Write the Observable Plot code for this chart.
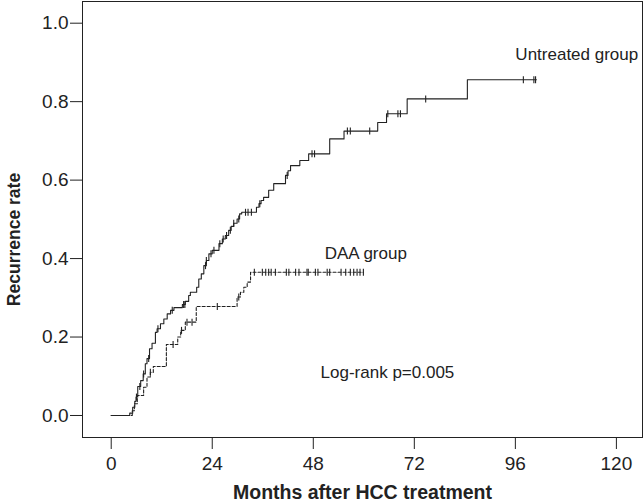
<!DOCTYPE html>
<html>
<head>
<meta charset="utf-8">
<script src="https://cdn.jsdelivr.net/npm/d3@7"></script>
<script src="https://cdn.jsdelivr.net/npm/@observablehq/plot@0.6"></script>
<style>
  html, body { margin: 0; padding: 0; background: #fff; }
  #chart { width: 644px; height: 503px; }
</style>
</head>
<body>
<div id="chart"></div>
<script>
// Untreated group: event months and cumulative recurrence after each step
const untreatedMonths = [0, 4.4, 5.1, 5.6, 5.9, 6.3, 7.0, 7.6, 8.1, 8.5, 9.1, 9.7, 10.5, 10.9, 11.7, 12.5, 13.3, 14.1, 14.9, 16.9, 17.6, 18.4, 18.8, 20.3, 20.8, 21.4, 22.0, 22.6, 23.2, 24.0, 25.6, 26.4, 27.1, 27.9, 28.5, 29.1, 29.9, 30.5, 31.0, 34.5, 35.1, 35.6, 36.2, 37.4, 38.6, 41.4, 42.0, 42.6, 44.8, 46.9, 51.9, 55.3, 63.3, 65.4, 70.3, 84.6, 101.0];
const untreatedRates  = [0, 0.006, 0.021, 0.036, 0.047, 0.074, 0.089, 0.106, 0.132, 0.145, 0.170, 0.184, 0.212, 0.221, 0.234, 0.246, 0.259, 0.268, 0.275, 0.283, 0.291, 0.306, 0.314, 0.327, 0.348, 0.361, 0.382, 0.395, 0.412, 0.421, 0.438, 0.450, 0.459, 0.472, 0.482, 0.490, 0.501, 0.514, 0.518, 0.531, 0.540, 0.548, 0.556, 0.574, 0.591, 0.612, 0.624, 0.637, 0.650, 0.667, 0.705, 0.725, 0.747, 0.769, 0.807, 0.856, 0.856];
const untreatedCensorMonths = [6.0, 6.8, 7.7, 8.9, 11.1, 14.5, 17.2, 17.5, 22.4, 22.6, 23.7, 24.4, 25.8, 26.6, 27.4, 28.3, 29.1, 30.3, 31.9, 32.5, 33.3, 35.3, 41.8, 47.7, 48.3, 56.1, 56.8, 61.4, 65.7, 68.1, 68.7, 74.7, 97.9, 100.4, 100.8];

// DAA group
const daaMonths = [0, 5.0, 5.5, 6.2, 7.7, 8.5, 9.3, 10.0, 13.1, 15.8, 16.5, 17.6, 20.2, 29.9, 30.7, 31.5, 32.3, 33.1, 59.9];
const daaRates  = [0, 0.012, 0.030, 0.051, 0.072, 0.098, 0.110, 0.125, 0.181, 0.200, 0.217, 0.238, 0.278, 0.302, 0.314, 0.327, 0.340, 0.365, 0.365];
const daaCensorMonths = [9.3, 14.7, 16.7, 18.0, 19.2, 25.2, 30.3, 34.0, 35.9, 36.7, 37.4, 38.0, 39.0, 41.6, 42.2, 43.8, 44.6, 46.5, 46.8, 48.5, 49.1, 51.3, 51.9, 54.6, 55.7, 56.8, 57.6, 58.4, 59.1, 59.9];

const xTicks = [0, 24, 48, 72, 96, 120];
const yTicks = [0, 0.2, 0.4, 0.6, 0.8, 1.0];

const groupLabels = ["Untreated group", "DAA group"];
const labelMonths = [96.0, 50.7];
const labelRates = [0.905, 0.399];
const pValueText = "Log-rank p=0.005";
const xTitle = "Months after HCC treatment";
const yTitle = "Recurrence rate";

// build tables
const toSteps = (ms, rs) => ms.map((t, i) => ({t, r: rs[i]}));
const stepValue = (ms, rs, t) => { let v = rs[0]; for (let i = 0; i < ms.length; i++) if (ms[i] <= t) v = rs[i]; return v; };
const untreated = toSteps(untreatedMonths, untreatedRates);
const daa = toSteps(daaMonths, daaRates);
const censors = [
  ...untreatedCensorMonths.map(t => ({t, r: stepValue(untreatedMonths, untreatedRates, t)})),
  ...daaCensorMonths.map(t => ({t, r: stepValue(daaMonths, daaRates, t)}))
];
const labels = groupLabels.map((s, i) => ({s, t: labelMonths[i], r: labelRates[i]}));

const tickSymbol = {
  draw(ctx, size) {
    const h = Math.sqrt(size / Math.PI);
    ctx.moveTo(0, -h);
    ctx.lineTo(0, h);
  }
};

const ink = "#222";
const chart = Plot.plot({
  width: 644,
  height: 503,
  marginLeft: 82,
  marginRight: 2,
  marginTop: 1,
  marginBottom: 66,
  style: {fontFamily: "'Liberation Sans', Arial, sans-serif", fontSize: "19px", color: ink, background: "#fff"},
  x: {domain: [-6.82, 126.2]},
  y: {domain: [-0.0561, 1.0553]},
  marks: [
    Plot.frame({stroke: ink}),
    Plot.axisX({ticks: xTicks, tickSize: 12, tickPadding: 7, tickFormat: d => String(d), label: null, fontSize: 19}),
    Plot.axisY({ticks: yTicks, tickSize: 12, tickPadding: 2, tickFormat: d3.format(".1f"), label: null, fontSize: 19}),
    Plot.line(untreated, {x: "t", y: "r", curve: "step-after", stroke: ink, strokeWidth: 1.1}),
    Plot.line(daa, {x: "t", y: "r", curve: "step-after", stroke: ink, strokeWidth: 1.1, strokeDasharray: "3,2"}),
    Plot.dot(censors, {x: "t", y: "r", symbol: tickSymbol, r: 3.5, stroke: ink, strokeWidth: 1.1, fill: "none"}),
    Plot.text(labels, {x: "t", y: "r", text: "s", textAnchor: "start", lineAnchor: "bottom", fontSize: 17, fill: ink}),
    Plot.text([pValueText], {x: [81.5], y: [0.0943], text: d => d, textAnchor: "end", lineAnchor: "bottom", fontSize: 17, fill: ink}),
    Plot.text([xTitle], {frameAnchor: "bottom", textAnchor: "middle", lineAnchor: "bottom", dy: 61, text: d => d, fontWeight: "bold", fontSize: 19.5, fill: ink}),
    Plot.text([yTitle], {frameAnchor: "left", textAnchor: "middle", lineAnchor: "middle", dx: -68, dy: 20, rotate: -90, text: d => d, fontWeight: "bold", fontSize: 17.5, fill: ink})
  ]
});
document.getElementById("chart").appendChild(chart);
</script>
</body>
</html>
